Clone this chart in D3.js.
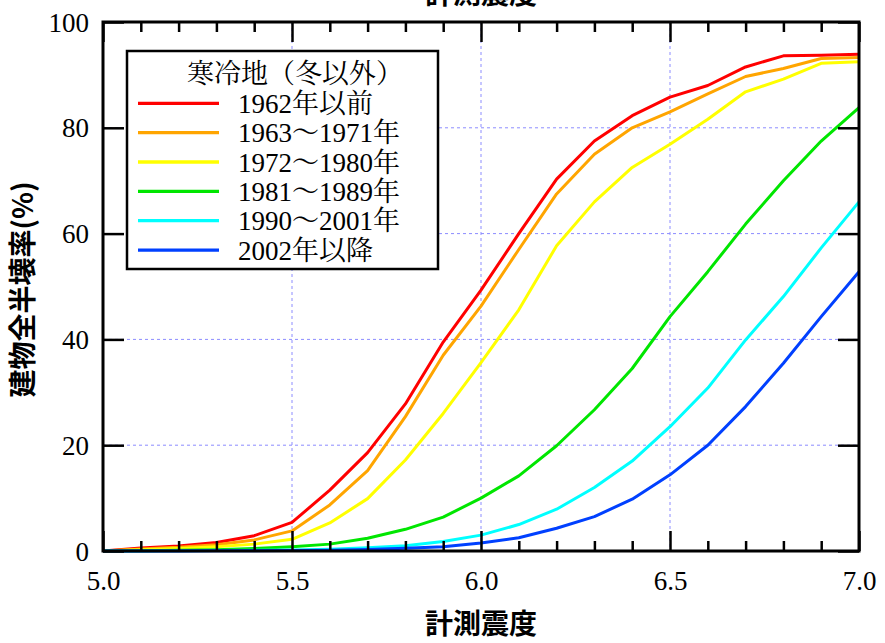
<!DOCTYPE html>
<html><head><meta charset="utf-8">
<script src="https://cdn.jsdelivr.net/npm/d3@7"></script>
<style>
html,body{margin:0;padding:0;background:#fff;}
svg{display:block;}
</style></head>
<body>
<svg id="chart" width="885" height="643"></svg>
<script>
const xValues = [5.0,5.1,5.2,5.3,5.4,5.5,5.6,5.7,5.8,5.9,6.0,6.1,6.2,6.3,6.4,6.5,6.6,6.7,6.8,6.9,7.0];
const seriesNames = ["1962年以前","1963～1971年","1972～1980年","1981～1989年","1990～2001年","2002年以降"];
const seriesColors = ["#ff0000","#ffa500","#ffff00","#00e600","#00ffff","#0040ff"];
const s1962 = [0,0.55,0.95,1.6,2.9,5.4,11.5,18.6,27.8,39.5,49.3,60,70.3,77.5,82.3,85.8,88,91.5,93.6,93.7,93.9];
const s1963 = [0,0.4,0.7,1.2,2.1,3.8,8.7,15.2,25.4,37,46.3,57,67.5,75,80,83,86.4,89.7,91.2,93.1,93.3];
const s1972 = [0,0.25,0.45,0.8,1.3,2.2,5.3,9.9,17.2,26,35.6,45.6,57.7,66,72.5,76.9,81.6,86.8,89.2,92.2,92.5];
const s1981 = [0,0.05,0.15,0.25,0.45,0.8,1.3,2.4,4.1,6.4,10,14.2,19.9,26.7,34.5,44.3,52.8,61.8,70,77.5,83.8];
const s1990 = [0,0.02,0.05,0.08,0.12,0.2,0.35,0.6,1.0,1.8,3.0,5.0,7.9,12,17,23.5,30.8,39.9,48.1,57.3,66];
const s2002 = [0,0.01,0.02,0.04,0.06,0.1,0.15,0.3,0.5,0.8,1.5,2.5,4.3,6.5,9.8,14.4,20,27.3,35.5,44.3,52.8];
const seriesValues = [s1962,s1963,s1972,s1981,s1990,s2002];
const xTickLabels = ["5.0","5.5","6.0","6.5","7.0"];
const yTickLabels = ["0","20","40","60","80","100"];
const legendTitle = "寒冷地（冬以外）";
const chartTitle = "計測震度";
const xAxisTitle = "計測震度";
const yAxisTitle = "建物全半壊率(%)";

const SERIF = '"Liberation Serif", "Noto Serif CJK JP", serif';
const SANS = '"Noto Sans CJK JP", "Noto Sans", sans-serif';

const svg = d3.select("#chart");
const L = 103, R = 859, T = 22, B = 551;
const x = d3.scaleLinear().domain([5,7]).range([L,R]);
const y = d3.scaleLinear().domain([0,100]).range([B,T]);

// grid
const gridColor = "#8c8cff";
const majorX = xTickLabels.map(Number);
const majorY = yTickLabels.map(Number);
svg.append("g").selectAll("line").data(majorX.filter(v=>v>5&&v<7)).join("line")
  .attr("x1",d=>x(d)).attr("x2",d=>x(d)).attr("y1",T).attr("y2",B)
  .attr("stroke",gridColor).attr("stroke-width",1).attr("stroke-dasharray","3,3");
svg.append("g").selectAll("line").data(majorY.filter(v=>v>0&&v<100)).join("line")
  .attr("x1",L).attr("x2",R).attr("y1",d=>y(d)).attr("y2",d=>y(d))
  .attr("stroke",gridColor).attr("stroke-width",1).attr("stroke-dasharray","3,3");

// series
const line = d3.line().x((d,i)=>x(xValues[i])).y(d=>y(d));
seriesValues.forEach((vals,k)=>{
  svg.append("path").datum(vals).attr("d",line)
    .attr("fill","none").attr("stroke",seriesColors[k]).attr("stroke-width",3)
    .attr("stroke-linejoin","round");
});

// axes with inward ticks
const minorX = d3.range(51,70).map(v=>v/10).filter(v=>Math.abs(v*2-Math.round(v*2))>1e-6);
const axisG = svg.append("g");
const bottomMajor = d3.axisBottom(x).tickValues(majorX).tickSize(-20).tickFormat((d,i)=>xTickLabels[i]);
const bottomMinor = d3.axisBottom(x).tickValues(minorX).tickSize(-10).tickFormat("");
const topMajor = d3.axisTop(x).tickValues(majorX).tickSize(-20).tickFormat("");
const topMinor = d3.axisTop(x).tickValues(minorX).tickSize(-10).tickFormat("");
const leftAx = d3.axisLeft(y).tickValues(majorY).tickSize(-21).tickFormat((d,i)=>yTickLabels[i]);
const rightAx = d3.axisRight(y).tickValues(majorY).tickSize(-21).tickFormat("");
function style(g){
  g.attr("font-family",null).attr("font-size",null);
  g.select(".domain").remove();
  g.selectAll(".tick line").attr("stroke","#000").attr("stroke-width",2.5);
  g.selectAll("text").style("font-family",SERIF).style("font-size","27px").attr("fill","#000");
}
axisG.append("g").attr("transform",`translate(0,${B})`).call(bottomMajor).call(style)
  .selectAll("text").attr("dy",null).attr("y",39);
axisG.append("g").attr("transform",`translate(0,${B})`).call(bottomMinor).call(style);
axisG.append("g").attr("transform",`translate(0,${T})`).call(topMajor).call(style);
axisG.append("g").attr("transform",`translate(0,${T})`).call(topMinor).call(style);
axisG.append("g").attr("transform",`translate(${L},0)`).call(leftAx).call(style)
  .selectAll("text").attr("x",-14).attr("dy","0.34em");
axisG.append("g").attr("transform",`translate(${R},0)`).call(rightAx).call(style);

// frame
svg.append("rect").attr("x",L).attr("y",T).attr("width",R-L).attr("height",B-T)
  .attr("fill","none").attr("stroke","#000").attr("stroke-width",3);

// titles
function sansText(sel,size){ return sel.style("font-family",SANS).style("font-weight","bold").style("font-size",size+"px"); }
svg.append("text").attr("x",(L+R)/2).attr("y",4).attr("text-anchor","middle").call(sansText,28).text(chartTitle);
svg.append("text").attr("x",(L+R)/2).attr("y",634).attr("text-anchor","middle").call(sansText,28).text(xAxisTitle);
svg.append("text").attr("transform",`translate(33,${(T+B)/2+3}) rotate(-90)`).attr("text-anchor","middle")
  .call(sansText,28).text(yAxisTitle);

// legend
const lg = svg.append("g");
lg.append("rect").attr("x",127).attr("y",51).attr("width",311).attr("height",218)
  .attr("fill","#fff").attr("stroke","#000").attr("stroke-width",2.5);
lg.append("text").attr("x",295).attr("y",83).attr("text-anchor","middle")
  .style("font-family",SERIF).style("font-size","27px").text(legendTitle);
seriesNames.forEach((name,i)=>{
  const yy = 103.3 + i*29.35;
  lg.append("line").attr("x1",138).attr("x2",219).attr("y1",yy).attr("y2",yy)
    .attr("stroke",seriesColors[i]).attr("stroke-width",3.3);
  lg.append("text").attr("x",238).attr("y",yy+9.5)
    .style("font-family",SERIF).style("font-size","27px").text(name);
});
</script>
</body></html>
